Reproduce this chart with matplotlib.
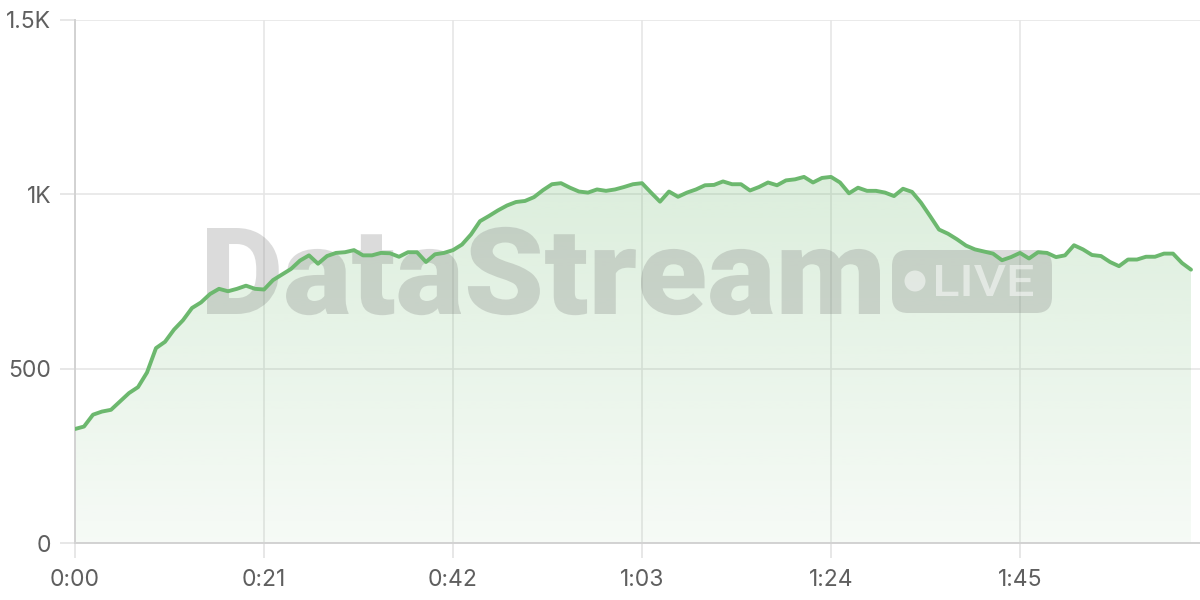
import numpy as np
import matplotlib
matplotlib.use("Agg")
import matplotlib.pyplot as plt
from matplotlib.patches import FancyBboxPatch, Circle, PathPatch
from matplotlib.textpath import TextPath
from matplotlib.font_manager import FontProperties
from matplotlib.transforms import Affine2D

# ---------------- data ----------------
seconds = list(range(125))
values = [327, 334, 368, 377, 382, 406, 430, 447, 489, 559,
          577, 612, 639, 674, 690, 714, 729, 722, 729, 738,
          729, 727, 754, 770, 786, 810, 825, 801, 823, 832,
          834, 840, 825, 825, 832, 831, 821, 834, 834, 806,
          828, 832, 840, 856, 885, 923, 938, 954, 968, 978,
          981, 992, 1012, 1029, 1032, 1019, 1008, 1005, 1014, 1010,
          1014, 1021, 1029, 1032, 1005, 979, 1008, 993, 1005, 1014,
          1026, 1027, 1037, 1029, 1029, 1011, 1021, 1034, 1026, 1040,
          1043, 1050, 1034, 1047, 1050, 1034, 1003, 1019, 1010, 1010,
          1005, 995, 1016, 1007, 976, 938, 899, 887, 871, 853,
          842, 836, 830, 811, 820, 832, 816, 834, 832, 820,
          825, 854, 842, 826, 823, 806, 794, 813, 813, 821,
          821, 830, 830, 803, 784]
x_ticks = [0, 21, 42, 63, 84, 105]
x_tick_labels = ["0:00", "0:21", "0:42", "1:03", "1:24", "1:45"]
y_ticks = [0, 500, 1000, 1500]
y_tick_labels = ["0", "500", "1K", "1.5K"]
watermark = "DataStream"
badge_text = "LIVE"

# ---------------- figure ----------------
W, H = 1200, 600
fig = plt.figure(figsize=(12, 6), dpi=100)
ax_left, ax_right, ax_top, ax_bottom = 75, 1200, 20, 543
ax = fig.add_axes([ax_left / W, 1 - ax_bottom / H,
                   (ax_right - ax_left) / W, (ax_bottom - ax_top) / H])

x = np.array(seconds, dtype=float)
y = np.array(values, dtype=float)

ax.set_xlim(0, 125)
ax.set_ylim(0, 1500)

line_color = "#6cb86e"

# gradient fill
poly = ax.fill_between(x, 0, y, color="none", zorder=1)
grad = np.linspace(0.06, 0.24, 256)
rgba = np.zeros((256, 1, 4))
rgba[..., 0] = 108 / 255
rgba[..., 1] = 184 / 255
rgba[..., 2] = 110 / 255
rgba[:, 0, 3] = grad
im = ax.imshow(rgba, extent=[x.min(), x.max(), 0, y.max()], origin="lower",
               aspect="auto", zorder=1, interpolation="bilinear")
im.set_clip_path(poly.get_paths()[0], transform=ax.transData)

ax.plot(x, y, color=line_color, lw=2.8, zorder=4, solid_joinstyle="round",
        solid_capstyle="round")

# axes styling
font = ["Inter", "Roboto", "DejaVu Sans"]
ax.set_xticks(x_ticks)
ax.set_xticklabels(x_tick_labels)
ax.set_yticks(y_ticks)
ax.set_yticklabels(y_tick_labels)
for lab in ax.get_xticklabels() + ax.get_yticklabels():
    lab.set_family(font)
    lab.set_fontsize(16.5)
    lab.set_color("#5f5f5f")
ax.tick_params(axis="both", length=11, width=1.2, color="#e3e3e3")
ax.tick_params(axis="x", pad=8)
ax.tick_params(axis="y", pad=6)
ax.grid(True, color="#e6e6e6", lw=1.2, zorder=0)
ax.set_axisbelow(True)
for s in ["top", "right"]:
    ax.spines[s].set_visible(False)
for s in ["left", "bottom"]:
    ax.spines[s].set_color("#d2d2d2")
    ax.spines[s].set_linewidth(1.4)

# ---------------- watermark ----------------
wm_color = (0.45, 0.45, 0.45, 0.25)
px = Affine2D().scale(1.0 / W, 1.0 / H) + fig.transFigure  # pixel coords (y up)


def fitted_text(s, fp, x0, x1, baseline, cap_h, **kw):
    tp = TextPath((0, 0), s, size=100, prop=fp)
    ext = tp.get_extents()
    cap = TextPath((0, 0), "D", size=100, prop=fp).get_extents()
    sx = (x1 - x0) / ext.width
    sy = cap_h / cap.y1
    tf = Affine2D().translate(-ext.x0, 0).scale(sx, sy).translate(x0, H - baseline)
    patch = PathPatch(tf.transform_path(tp), transform=px, clip_on=False, **kw)
    ax.add_patch(patch)
    return patch


fp_wm = FontProperties(family=["Roboto", "Open Sans", "DejaVu Sans"], weight="black")
fitted_text(watermark, fp_wm, 207, 880, 314, 86,
            facecolor=wm_color, edgecolor="none", zorder=3)

bx0, by0, bx1, by1 = 892, 250, 1052, 313
badge = FancyBboxPatch((bx0, H - by1), bx1 - bx0, by1 - by0,
                       boxstyle="round,pad=0,rounding_size=16",
                       transform=px, facecolor=wm_color, edgecolor="none",
                       zorder=3, clip_on=False)
ax.add_patch(badge)
dot = Circle((915 / 100, (H - 281) / 100), 10.5 / 100,
             transform=fig.dpi_scale_trans, facecolor=(1, 1, 1, 0.5),
             edgecolor="none", zorder=3.1, clip_on=False)
ax.add_patch(dot)
fp_live = FontProperties(family=["Roboto", "Open Sans", "DejaVu Sans"], weight="medium")
tp_live = TextPath((0, 0), badge_text, size=100, prop=fp_live)
e = tp_live.get_extents()
sx = (1033 - 936) / e.width
sy = 31 / e.height
tf = Affine2D().translate(-e.x0, -e.y0).scale(sx, sy).translate(936, H - 296)
ax.add_patch(PathPatch(tf.transform_path(tp_live), transform=px, clip_on=False,
                       facecolor=(1, 1, 1, 0.5), edgecolor="none", zorder=3.1))

fig.savefig("out.png", dpi=100)
